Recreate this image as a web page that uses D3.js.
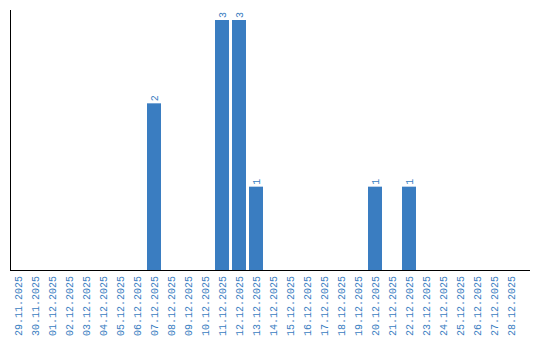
<!DOCTYPE html>
<html>
<head>
  <meta charset="UTF-8">
  <title>Daily Count</title>
  <script src="https://d3js.org/d3.v7.min.js"></script>
  <style>
    body {
      margin: 0;
      background: #fff;
    }
    text {
      font-family: "Liberation Mono", monospace;
      font-size: 10px;
      fill: #3a7dc1;
    }
    .bar {
      fill: #3a7dc1;
    }
    .axis-line {
      stroke: #000;
      stroke-width: 1;
      shape-rendering: crispEdges;
    }
  </style>
</head>
<body>
  <div id="chart"></div>
  <script>
    const dates = [
      "29.11.2025", "30.11.2025", "01.12.2025", "02.12.2025", "03.12.2025",
      "04.12.2025", "05.12.2025", "06.12.2025", "07.12.2025", "08.12.2025",
      "09.12.2025", "10.12.2025", "11.12.2025", "12.12.2025", "13.12.2025",
      "14.12.2025", "15.12.2025", "16.12.2025", "17.12.2025", "18.12.2025",
      "19.12.2025", "20.12.2025", "21.12.2025", "22.12.2025", "23.12.2025",
      "24.12.2025", "25.12.2025", "26.12.2025", "27.12.2025", "28.12.2025"
    ];
    const counts = [
      0, 0, 0, 0, 0,
      0, 0, 0, 2, 0,
      0, 0, 3, 3, 1,
      0, 0, 0, 0, 0,
      0, 1, 0, 1, 0,
      0, 0, 0, 0, 0
    ];
    const yMax = 3;

    const width = 540, height = 340;
    const plot = { left: 10, right: 530, top: 10, bottom: 270 };

    const svg = d3.select("#chart")
      .append("svg")
      .attr("width", width)
      .attr("height", height);

    const x = d3.scaleBand()
      .domain(dates)
      .range([11, 518])
      .paddingInner(3 / 17)
      .paddingOuter(0);

    const y = d3.scaleLinear()
      .domain([0, yMax])
      .range([plot.bottom, 20]);

    const data = dates.map((d, i) => ({ date: d, value: counts[i] }));

    svg.selectAll(".bar")
      .data(data.filter(d => d.value > 0))
      .enter()
      .append("rect")
      .attr("class", "bar")
      .attr("x", d => x(d.date))
      .attr("y", d => y(d.value))
      .attr("width", x.bandwidth())
      .attr("height", d => y(0) - y(d.value));

    svg.selectAll(".value")
      .data(data.filter(d => d.value > 0))
      .enter()
      .append("text")
      .attr("class", "value")
      .attr("transform", d => `translate(${x(d.date) + x.bandwidth() / 2}, ${y(d.value) - 2}) rotate(-90)`)
      .attr("dy", "0.35em")
      .attr("text-anchor", "start")
      .text(d => d.value);

    // x axis labels
    const xAxis = d3.axisBottom(x).tickSize(0).tickPadding(0);
    const gx = svg.append("g")
      .attr("transform", `translate(0, ${plot.bottom})`)
      .call(xAxis);
    gx.select(".domain").remove();
    gx.selectAll("text")
      .attr("font-family", null)
      .attr("font-size", null)
      .attr("fill", null)
      .attr("text-anchor", "end")
      .attr("x", -6)
      .attr("y", 0)
      .attr("dy", "0.35em")
      .attr("transform", "rotate(-90)");

    // axis lines
    svg.append("line")
      .attr("class", "axis-line")
      .attr("x1", plot.left + 0.5).attr("x2", plot.left + 0.5)
      .attr("y1", plot.top).attr("y2", plot.bottom);
    svg.append("line")
      .attr("class", "axis-line")
      .attr("x1", plot.left).attr("x2", plot.right)
      .attr("y1", plot.bottom + 0.5).attr("y2", plot.bottom + 0.5);
  </script>
</body>
</html>
